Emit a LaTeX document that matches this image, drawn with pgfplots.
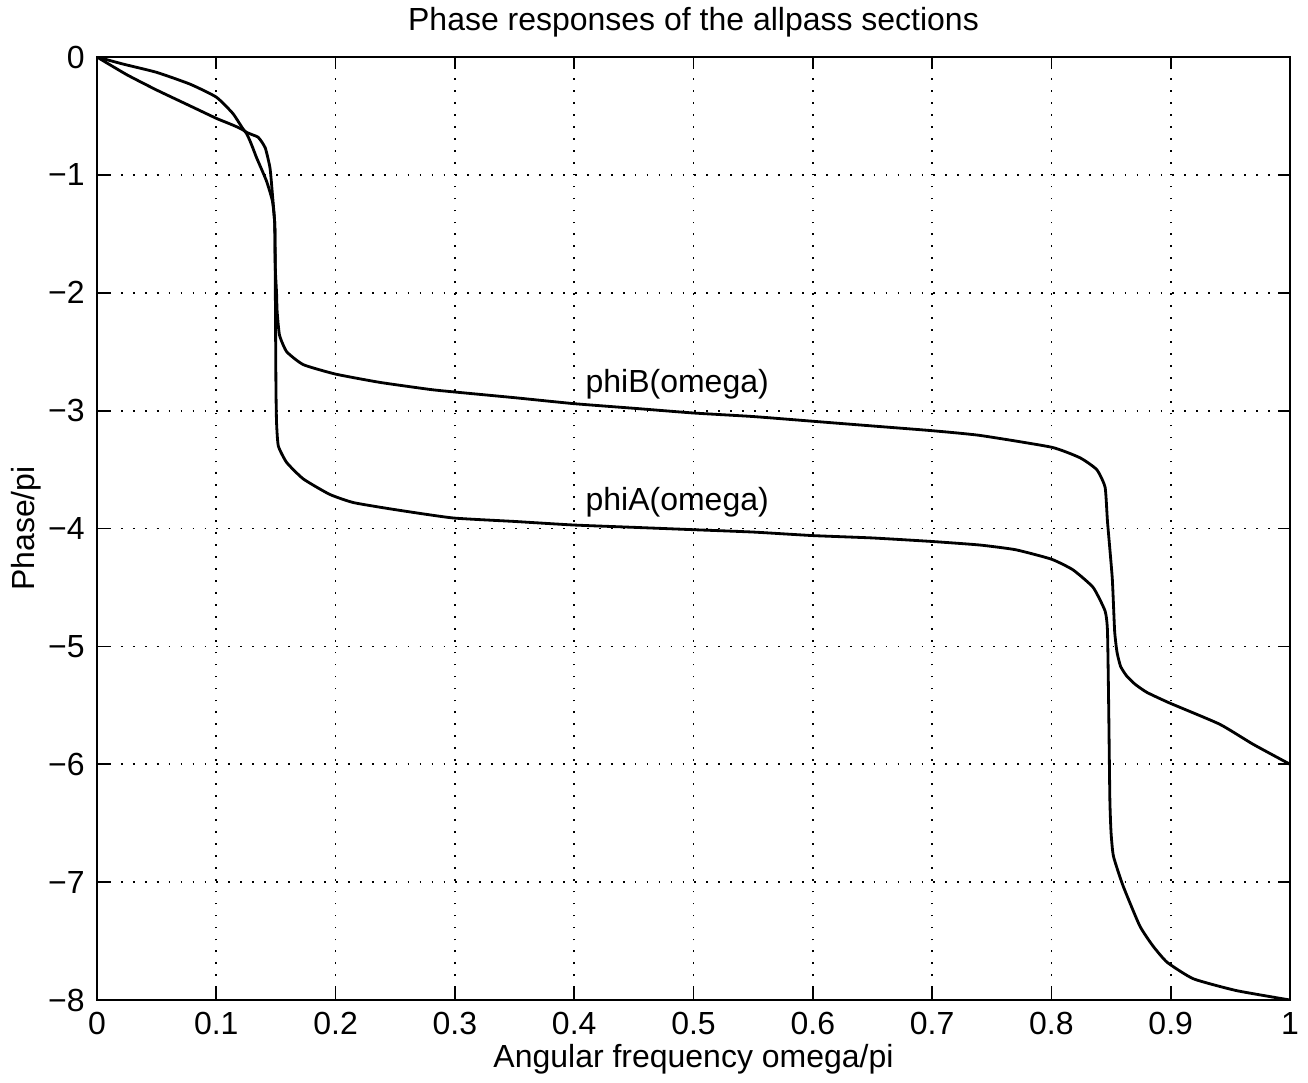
\documentclass[border=0pt]{standalone}
\usepackage{fontspec}
\setmainfont{Liberation Sans}
\usepackage{pgfplots}
\pgfplotsset{compat=1.18}

\begin{document}
\begin{tikzpicture}
\useasboundingbox (-0.97cm,-0.82cm) rectangle (12.11cm,10.00cm);
\begin{axis}[
    scale only axis, width=11.93cm, height=9.43cm,
    xmin=0, xmax=1, ymin=-8, ymax=0,
    font=\fontsize{9.1}{11}\selectfont,
    axis line style={line width=0.6pt},
    tick style={black, line width=0.5pt},
    major tick length=0.12cm,
    tick align=inside,
    xtick={0,0.1,0.2,0.3,0.4,0.5,0.6,0.7,0.8,0.9,1},
    xticklabels={0,0.1,0.2,0.3,0.4,0.5,0.6,0.7,0.8,0.9,1},
    ytick={-8,-7,-6,-5,-4,-3,-2,-1,0},
    yticklabels={−8,−7,−6,−5,−4,−3,−2,−1,0},
    grid=major,
    grid style={black, line width=0.5pt, dash pattern=on 0.5pt off 2.9pt},
    every axis title shift=0pt,
    title={Phase responses of the allpass sections},
    title style={at={(axis description cs:0.5,1)}, anchor=base, yshift=0.27cm, inner sep=0pt},
    xlabel={Angular frequency omega/pi},
    xlabel style={at={(axis description cs:0.5,0)}, anchor=base, yshift=-0.67cm, inner sep=0pt},
    ylabel={Phase/pi},
    ylabel style={at={(axis description cs:-0.0528,0.5)}, anchor=base, inner sep=0pt},
]
% phiA
\addplot[black, no markers, line width=0.8pt, line join=round, smooth, tension=0.3] coordinates {
(0,0) (0.025,-0.15) (0.05,-0.28) (0.075,-0.40) (0.1,-0.52) (0.124,-0.63) (0.134,-0.86) (0.142,-1.05)
(0.147,-1.22) (0.149,-1.42) (0.1495,-2.0) (0.150,-2.8) (0.1505,-3.1)
(0.152,-3.30) (0.159,-3.44) (0.173,-3.58) (0.195,-3.71) (0.215,-3.78)
(0.25,-3.84) (0.298,-3.91) (0.35,-3.94) (0.399,-3.97) (0.45,-3.99)
(0.5,-4.01) (0.55,-4.03) (0.6,-4.06) (0.65,-4.08) (0.7,-4.11) (0.74,-4.14)
(0.77,-4.18) (0.8,-4.26) (0.818,-4.35) (0.835,-4.50) (0.845,-4.70)
(0.847,-4.87) (0.848,-5.5) (0.849,-6.3) (0.850,-6.58) (0.852,-6.78)
(0.86,-7.03) (0.874,-7.37) (0.885,-7.54) (0.897,-7.68) (0.919,-7.82)
(0.955,-7.92) (1,-8.0)
};
% phiB
\addplot[black, no markers, line width=0.8pt, line join=round, smooth, tension=0.3] coordinates {
(0,0) (0.022,-0.06) (0.05,-0.13) (0.078,-0.23) (0.1,-0.34) (0.114,-0.48)
(0.124,-0.63) (0.135,-0.68) (0.141,-0.77) (0.145,-0.94) (0.147,-1.16)
(0.149,-1.42) (0.1495,-1.8) (0.1505,-2.0) (0.151,-2.16) (0.153,-2.36)
(0.159,-2.50) (0.173,-2.61) (0.2,-2.69) (0.237,-2.76) (0.279,-2.82)
(0.298,-2.84) (0.35,-2.89) (0.399,-2.94) (0.45,-2.98) (0.5,-3.02)
(0.55,-3.05) (0.6,-3.09) (0.65,-3.13) (0.7,-3.17) (0.74,-3.21)
(0.8,-3.31) (0.824,-3.40) (0.838,-3.50) (0.845,-3.65) (0.847,-3.94)
(0.851,-4.42) (0.853,-4.87) (0.855,-5.05) (0.858,-5.17) (0.863,-5.25)
(0.870,-5.32) (0.880,-5.39) (0.899,-5.48) (0.941,-5.66) (0.969,-5.83) (1,-6.0)
};
\node[anchor=base west, inner sep=0pt] at (axis cs:0.409,-2.85) {phiB(omega)};
\node[anchor=base west, inner sep=0pt] at (axis cs:0.409,-3.85) {phiA(omega)};
\end{axis}
\end{tikzpicture}
\end{document}
